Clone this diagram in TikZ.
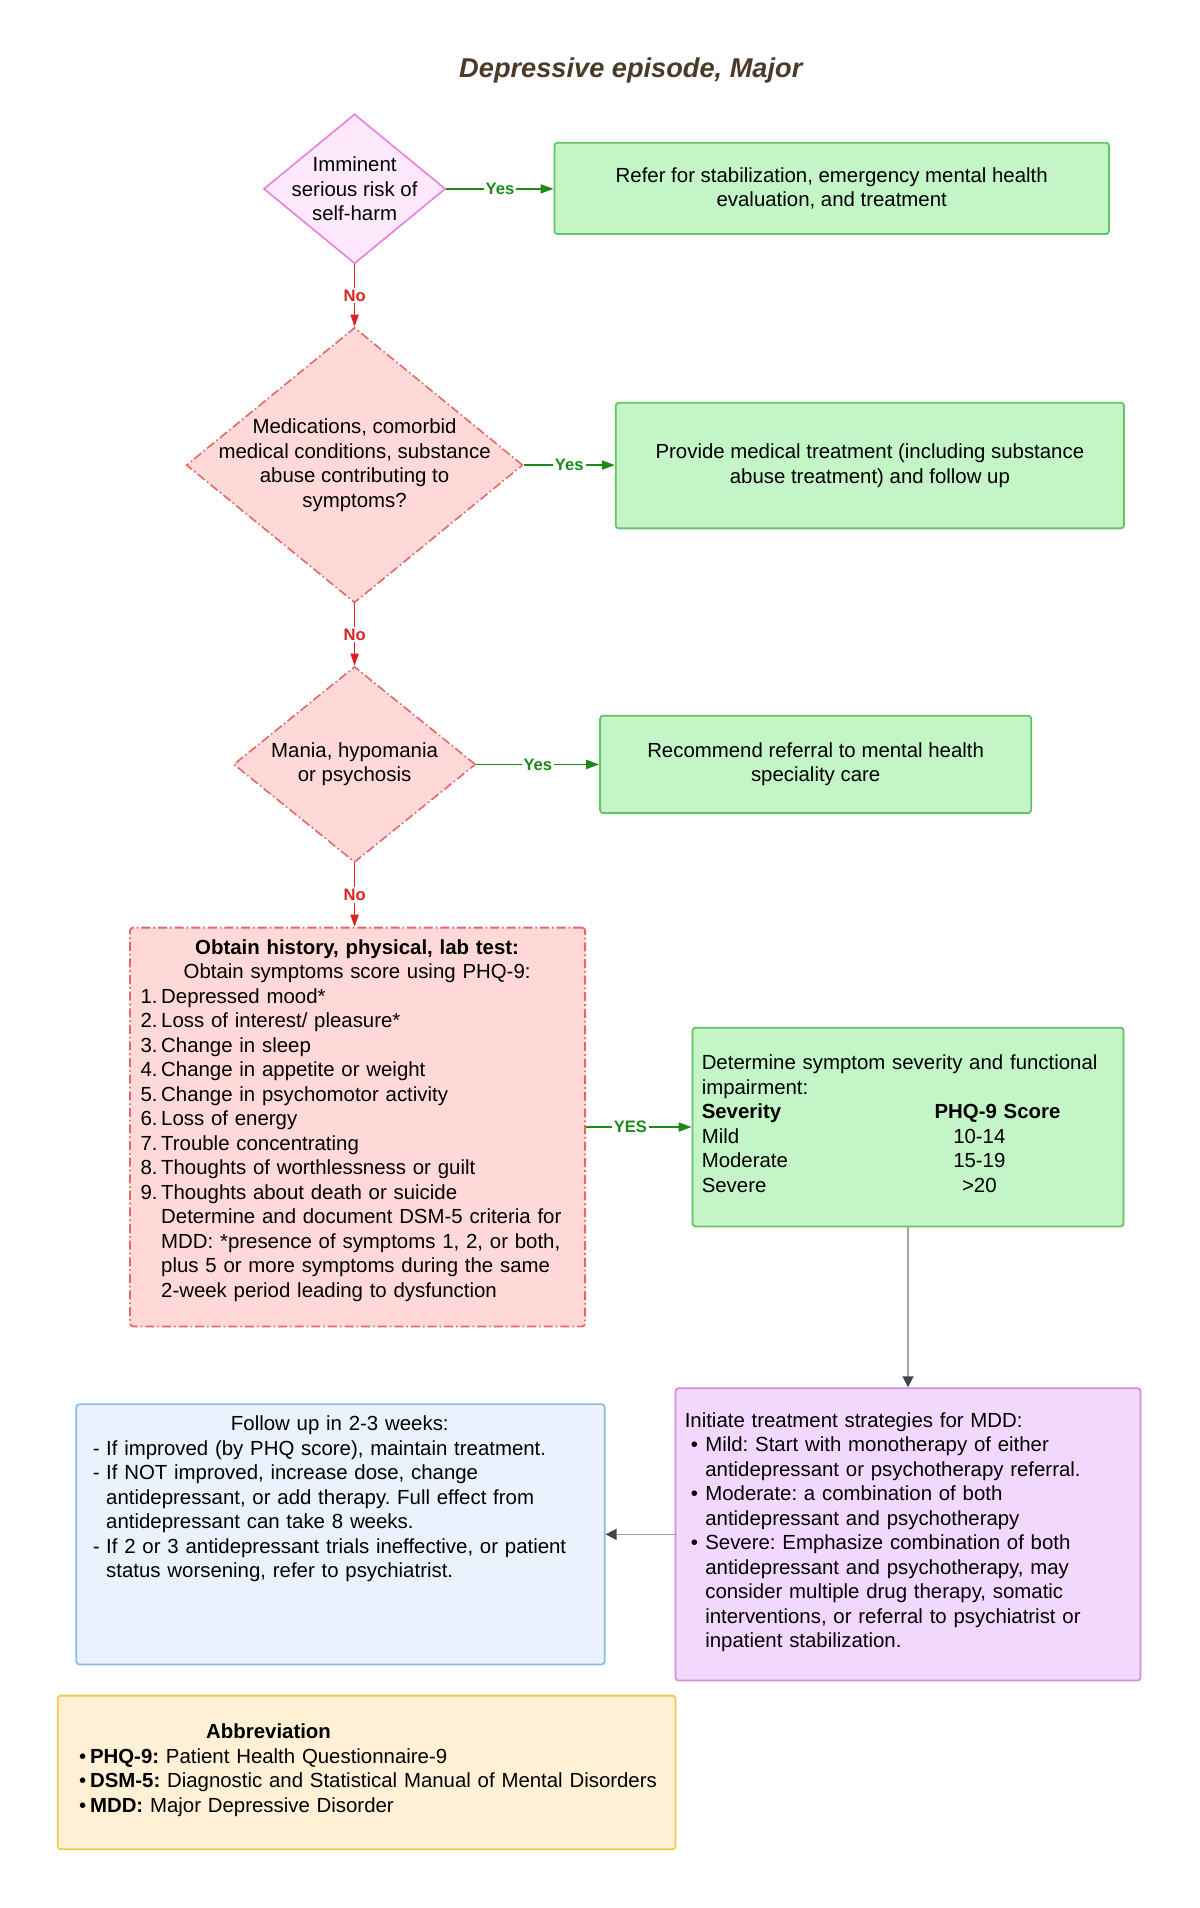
\documentclass[tikz,border=0pt]{standalone}
\usepackage{fontspec}
\setmainfont{Liberation Sans}
\usetikzlibrary{arrows.meta, positioning, shapes.geometric}

\definecolor{titlebrown}{HTML}{4B3A26}
\definecolor{pinkfill}{HTML}{FDE9FB}
\definecolor{pinkline}{HTML}{E77FDD}
\definecolor{redfill}{HTML}{FFD8D8}
\definecolor{redline}{HTML}{E36868}
\definecolor{greenfill}{HTML}{C3F5C6}
\definecolor{greenline}{HTML}{66C266}
\definecolor{yesgreen}{HTML}{1B8A1B}
\definecolor{nored}{HTML}{E0201E}
\definecolor{purplefill}{HTML}{F2D8FC}
\definecolor{purpleline}{HTML}{D48BE3}
\definecolor{bluefill}{HTML}{EAF2FD}
\definecolor{blueline}{HTML}{8EBAE8}
\definecolor{yellowfill}{HTML}{FFF0D6}
\definecolor{yellowline}{HTML}{F2C94C}
\definecolor{flowgray}{HTML}{A3A3A3}
\definecolor{tipgray}{HTML}{3C464F}

\newcommand{\lmark}[2][10.3pt]{\makebox[#1][l]{#2}}
\frenchspacing

\begin{document}
\begin{tikzpicture}[x = 0.50225pt, y = -0.50225pt,
    	font = \fontsize{10.2}{12.25}\selectfont,
    	dec/.style = {draw, diamond, line width = 0.8pt, inner sep = 0pt},
    	box/.style = {draw, rectangle, rounded corners = 1.5pt, line width = 0.9pt},
    	dashdot/.style = {dash pattern = on 4.5pt off 1.5pt on 0.8pt off 1.5pt},
    	txt/.style = {inner sep = 0pt, align = left},
    	yes/.style = {draw = yesgreen, line width = 0.9pt, arrows = {-Triangle[width = 4.5pt, length = 6.5pt]}},
    	no/.style = {draw = nored, line width = 0.7pt, arrows = {-Triangle[width = 4pt, length = 6pt]}},
    	flow/.style = {draw = flowgray, line width = 0.8pt, arrows = {-Triangle[width = 5.5pt, length = 5.5pt, color = tipgray]}},
    	yeslbl/.style = {fill = white, text = yesgreen, font = \fontsize{8.3}{9}\selectfont\bfseries, inner sep = 1pt},
    	nolbl/.style = {fill = white, text = nored, font = \fontsize{8.3}{9}\selectfont\bfseries, inner sep = 1pt}]
    	\fill[white] (0pt,0pt) rectangle (600pt,-954pt);
    	\useasboundingbox (0pt,0pt) rectangle (600pt,-954pt);
    	\node[font = \fontsize{13.6}{16}\selectfont\bfseries\itshape, text = titlebrown] (title) at (628,70) {Depressive episode, Major};
    	\node[dec, fill = pinkfill, draw = pinkline, minimum width = 90.9pt, minimum height = 74.8pt] (risk) at (353,188) {};
    	\node[txt, align = center] (risk-t) at (risk) {Imminent\\serious risk of\\self-harm};
    	\node[box, fill = greenfill, draw = greenline, minimum width = 277.2pt, minimum height = 45.7pt, align = center] (stab) at (828,187.5) {Refer for stabilization, emergency mental health\\evaluation, and treatment};
    	\node[dec, dashdot, fill = redfill, draw = redline, minimum width = 168.3pt, minimum height = 137.6pt] (med) at (353,463) {};
    	\node[txt, align = center] (med-t) at (med) {Medications, comorbid\\medical conditions, substance\\abuse contributing to\\symptoms?};
    	\node[box, fill = greenfill, draw = greenline, minimum width = 254.1pt, minimum height = 62.8pt, align = center] (medtx) at (866,463.5) {Provide medical treatment (including substance\\abuse treatment) and follow up};
    	\node[dec, dashdot, fill = redfill, draw = redline, minimum width = 121pt, minimum height = 97.9pt] (mania) at (353,761) {};
    	\node[txt, align = center] (mania-t) at (mania) {Mania, hypomania\\or psychosis};
    	\node[box, fill = greenfill, draw = greenline, minimum width = 215.5pt, minimum height = 48.7pt, align = center] (refer) at (812,761) {Recommend referral to mental health\\speciality care};
    	\node[box, dashdot, fill = redfill, draw = redline, minimum width = 227.5pt, minimum height = 199.4pt] (hist) at (356,1122) {};
    	\node[txt, text width = 222pt, below right = 6.2pt and 5.5pt of hist.north west] (hist-t) {\makebox[216.5pt]{\textbf{Obtain history, physical, lab test:}}\\
    		\makebox[216.5pt]{Obtain symptoms score using PHQ-9:}\\
    		\lmark{1.}Depressed mood*\\
    		\lmark{2.}Loss of interest/ pleasure*\\
    		\lmark{3.}Change in sleep\\
    		\lmark{4.}Change in appetite or weight\\
    		\lmark{5.}Change in psychomotor activity\\
    		\lmark{6.}Loss of energy\\
    		\lmark{7.}Trouble concentrating\\
    		\lmark{8.}Thoughts of worthlessness or guilt\\
    		\lmark{9.}Thoughts about death or suicide\\
    		\lmark{}Determine and document DSM-5 criteria for\\
    		\lmark{}MDD: *presence of symptoms 1, 2, or both,\\
    		\lmark{}plus 5 or more symptoms during the same\\
    		\lmark{}2-week period leading to dysfunction};
    	\node[box, fill = greenfill, draw = greenline, minimum width = 215.5pt, minimum height = 99.4pt] (sev) at (904,1122) {};
    	\node[txt, text width = 208pt, right = 4.85pt of sev.west, yshift = 1.6pt] (sev-t) {Determine symptom severity and functional\\
    		impairment:\\
    		\lmark[116.4pt]{\textbf{Severity}}\textbf{PHQ-9 Score}\\
    		\lmark[116.4pt]{Mild}\makebox[44.8pt]{10-14}\\
    		\lmark[116.4pt]{Moderate}\makebox[44.8pt]{15-19}\\
    		\lmark[116.4pt]{Severe}\makebox[44.8pt]{>20}};
    	\node[box, fill = purplefill, draw = purpleline, minimum width = 232.5pt, minimum height = 146.2pt] (init) at (904,1527.5) {};
    	\node[txt, text width = 225pt, right = 4.85pt of init.west, yshift = 1pt] (init-t) {Initiate treatment strategies for MDD:\\
    		\hspace*{3pt}\lmark[7.3pt]{•}Mild: Start with monotherapy of either\\
    		\hspace*{10.3pt}antidepressant or psychotherapy referral.\\
    		\hspace*{3pt}\lmark[7.3pt]{•}Moderate: a combination of both\\
    		\hspace*{10.3pt}antidepressant and psychotherapy\\
    		\hspace*{3pt}\lmark[7.3pt]{•}Severe: Emphasize combination of both\\
    		\hspace*{10.3pt}antidepressant and psychotherapy, may\\
    		\hspace*{10.3pt}consider multiple drug therapy, somatic\\
    		\hspace*{10.3pt}interventions, or referral to psychiatrist or\\
    		\hspace*{10.3pt}inpatient stabilization.};
    	\node[box, fill = bluefill, draw = blueline, minimum width = 264.2pt, minimum height = 130.1pt] (follow) at (339,1527.5) {};
    	\node[txt, text width = 250pt, below right = 6.2pt and 8.5pt of follow.north west] (follow-t) {\makebox[247pt]{Follow up in 2-3 weeks:}\\
    		\lmark[6.7pt]{-}If improved (by PHQ score), maintain treatment.\\
    		\lmark[6.7pt]{-}If NOT improved, increase dose, change\\
    		\lmark[6.7pt]{}antidepressant, or add therapy. Full effect from\\
    		\lmark[6.7pt]{}antidepressant can take 8 weeks.\\
    		\lmark[6.7pt]{-}If 2 or 3 antidepressant trials ineffective, or patient\\
    		\lmark[6.7pt]{}status worsening, refer to psychiatrist.};
    	\node[box, fill = yellowfill, draw = yellowline, minimum width = 308.9pt, minimum height = 76.8pt] (abbr) at (365,1764.5) {};
    	\node[txt, text width = 300pt, right = 10.9pt of abbr.west, yshift = 1pt] (abbr-t) {\hspace*{63.6pt}\textbf{Abbreviation}\\
    		\lmark[5.5pt]{•}\textbf{PHQ-9:} Patient Health Questionnaire-9\\
    		\lmark[5.5pt]{•}\textbf{DSM-5:} Diagnostic and Statistical Manual of Mental Disorders\\
    		\lmark[5.5pt]{•}\textbf{MDD:} Major Depressive Disorder};
    	\draw[yes] (risk.east) -- node[yeslbl] {Yes} (risk.east -| stab.west);
    	\draw[no] (risk.south) -- node[nolbl] {No} (med.north);
    	\draw[yes] (med.east) -- node[yeslbl] {Yes} (med.east -| medtx.west);
    	\draw[no] (med.south) -- node[nolbl] {No} (mania.north);
    	\draw[yes] (mania.east) -- node[yeslbl] {Yes} (mania.east -| refer.west);
    	\draw[no] (mania.south) -- node[nolbl] {No} (mania.south |- hist.north);
    	\draw[yes] (hist.east) -- node[yeslbl, pos = 0.42] {YES} (hist.east -| sev.west);
    	\draw[flow] (sev.south) -- (init.north);
    	\draw[flow] (init.west) -- (follow.east);
    \end{tikzpicture}
\end{document}
